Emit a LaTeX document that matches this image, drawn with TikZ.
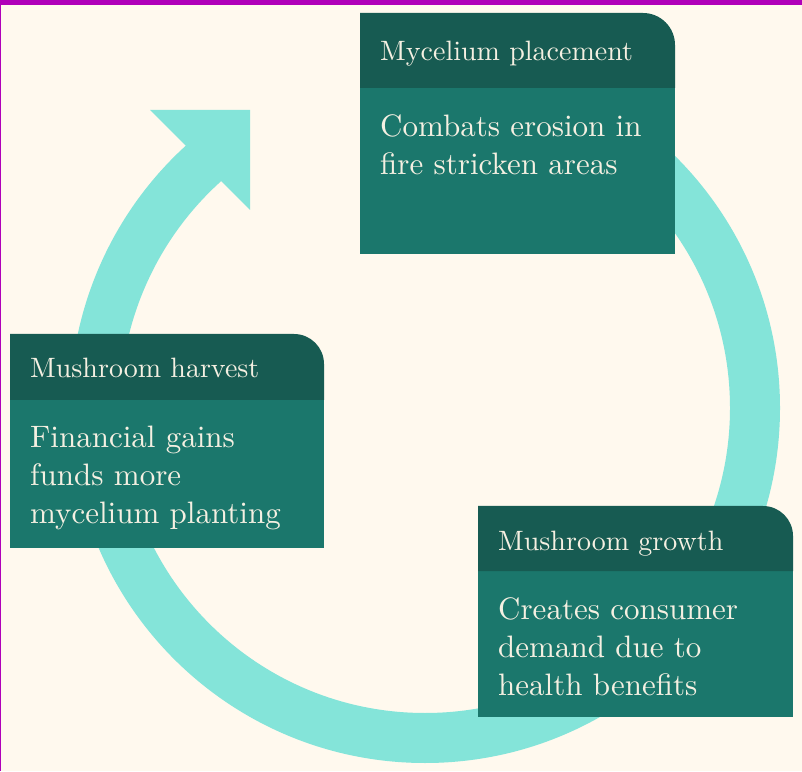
\documentclass[tikz,border=0pt]{standalone}
\usepackage{fontspec}
\setmainfont{lmroman10-regular}[Extension=.otf]
\definecolor{bgc}{HTML}{FFF9EE}
\definecolor{purp}{HTML}{B000B9}
\definecolor{ringc}{HTML}{84E4D9}
\definecolor{hdrc}{HTML}{175B52}
\definecolor{bodyc}{HTML}{1B776C}
\definecolor{txtc}{HTML}{F5F0E2}
\newcommand\twolines[2]{\vtop{\baselineskip=38pt\lineskiplimit=-100pt\hbox{#1}\hbox{#2}}}
\newcommand\threelines[3]{\vtop{\baselineskip=38pt\lineskiplimit=-100pt\hbox{#1}\hbox{#2}\hbox{#3}}}
\begin{document}
\begin{tikzpicture}[x=1pt,y=1pt,
  titletext/.style={anchor=base west,inner sep=0pt,text=txtc,font=\fontsize{28}{34}\selectfont},
  bodytext/.style={anchor=base west,inner sep=0pt,text=txtc,font=\fontsize{31}{38}\selectfont},
  ring/.style={draw=ringc,line width=50pt},
  head/.style={fill=hdrc},
  panel/.style={fill=bodyc}]
\useasboundingbox (0,0) rectangle (802,771);
\fill[bgc] (0,0) rectangle (802,771);
\fill[purp] (0,766.3) rectangle (802,771);
\fill[purp] (0,0) rectangle (1.2,771);
% cycle ring with arrowhead
\coordinate (ctr) at (425,363);
\coordinate (tipA) at (150,661);
\coordinate (tipB) at (250,661);
\coordinate (tipC) at (250,561);
\draw[ring] (ctr) ++(90:330) arc[start angle=90,end angle=-229,radius=330];
\fill[ringc] (tipA) -- (tipB) -- (tipC) -- cycle;
% box 1
\fill[panel] (360,517) rectangle (675,683.5);
\fill[head] (360,683) -- (360,758) -- (643,758) arc[start angle=90,end angle=0,radius=32] -- (675,683) -- cycle;
\node[titletext] (t1) at (380,710) {Mycelium placement};
\node[bodytext] (d1) at (380,634) {\twolines{Combats erosion in}{fire stricken areas}};
% box 2
\fill[panel] (10,223) rectangle (324,371.5);
\fill[head] (10,371) -- (10,437) -- (294,437) arc[start angle=90,end angle=0,radius=30] -- (324,371) -- cycle;
\node[titletext] (t2) at (30,393) {Mushroom harvest};
\node[bodytext] (d2) at (30,323) {\threelines{Financial gains}{funds more}{mycelium planting}};
% box 3
\fill[panel] (478,54) rectangle (793,200.5);
\fill[head] (478,200) -- (478,265) -- (763,265) arc[start angle=90,end angle=0,radius=30] -- (793,200) -- cycle;
\node[titletext] (t3) at (498,221) {Mushroom growth};
\node[bodytext] (d3) at (498,152) {\threelines{Creates consumer}{demand due to}{health benefits}};
\end{tikzpicture}
\end{document}
